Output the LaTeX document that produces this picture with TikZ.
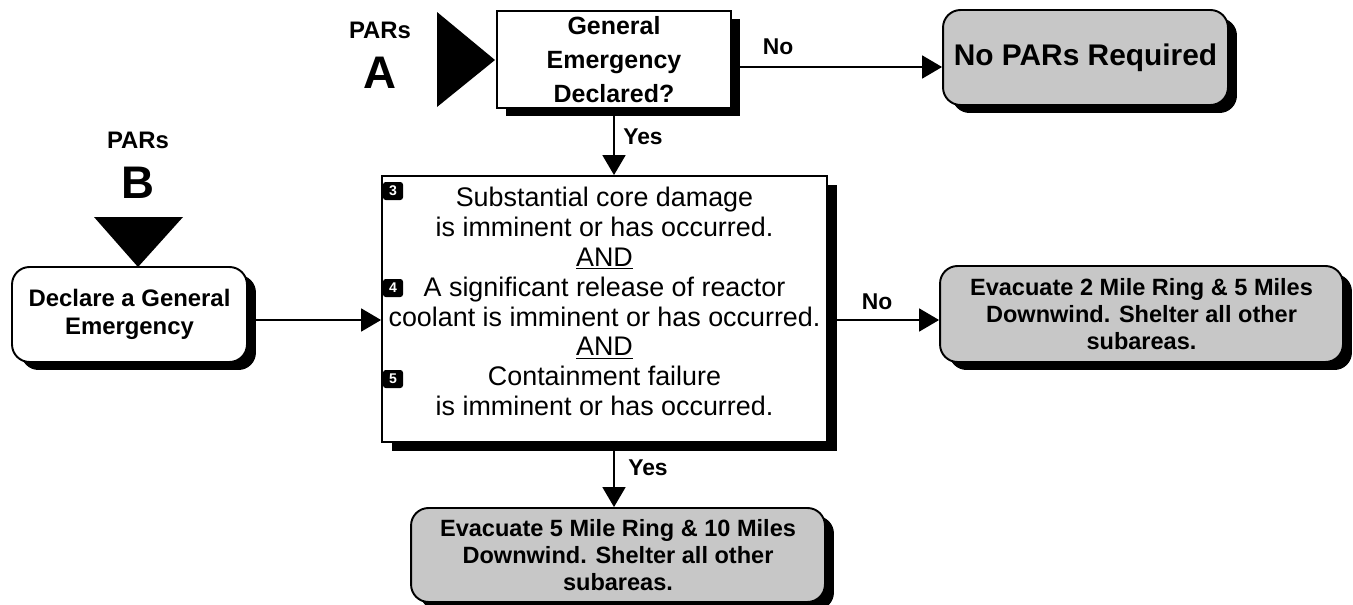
\documentclass[tikz,border=0pt]{standalone}
\usepackage{fontspec}
\setmainfont{Liberation Sans}
\usetikzlibrary{arrows.meta, shadows}
\tikzstyle{question} = [rectangle, minimum width=4.68cm, minimum height=1.9cm, text centered, align=center, draw=black, line width=1.1pt, fill=white, font=\fontsize{14.2}{19.3}\selectfont\bfseries,
drop shadow={shadow xshift=0.18cm, shadow yshift=-0.16cm, fill=black, opacity=1}]
\tikzstyle{process} = [rectangle, rounded corners=0.35cm, minimum width=4.7cm, minimum height=1.9cm, text centered, align=center, draw=black, line width=1.1pt, fill=white, font=\fontsize{13.6}{15.9}\selectfont\bfseries,
drop shadow={shadow xshift=0.18cm, shadow yshift=-0.16cm, fill=black, opacity=1}]
\tikzstyle{result} = [rectangle, rounded corners=0.35cm, text centered, align=center, draw=black, line width=1.1pt, fill=black!22, font=\fontsize{13.4}{15.3}\selectfont\bfseries,
drop shadow={shadow xshift=0.18cm, shadow yshift=-0.16cm, fill=black, opacity=1}]
\tikzstyle{condition} = [rectangle, minimum width=8.9cm, minimum height=5.32cm, draw=black, line width=1.1pt, fill=white,
drop shadow={shadow xshift=0.2cm, shadow yshift=-0.18cm, fill=black, opacity=1}]
\tikzstyle{condtext} = [text centered, align=center, font=\fontsize{15.3}{17}\selectfont]
\tikzstyle{numbox} = [rectangle, rounded corners=1.5pt, fill=black, text=white, minimum width=0.4cm, minimum height=0.36cm, inner sep=0pt, font=\fontsize{8}{8}\selectfont\bfseries]
\tikzstyle{pars} = [font=\fontsize{13.6}{15}\selectfont\bfseries]
\tikzstyle{letter} = [font=\fontsize{26}{28}\selectfont\bfseries]
\tikzstyle{answer} = [font=\fontsize{13}{15}\selectfont\bfseries]
\tikzstyle{arrow} = [line width=1.1pt, -{Triangle[length=0.4cm, width=0.46cm]}]

\begin{document}
\begin{tikzpicture}[x=0.02cm, y=-0.02cm]
\useasboundingbox (0,0) rectangle (1353,605);

% entry markers
\node (parsa) [pars] at (380,30) {PARs};
\node (lettera) [letter] at (380,73) {A};
\fill (437,12) -- (437,107) -- (495,60) -- cycle;
\node (parsb) [pars] at (138,140) {PARs};
\node (letterb) [letter] at (138,183) {B};
\fill (94,217) -- (183,217) -- (138,267) -- cycle;

\node (ge) [question] at (614,59.5) {General\\Emergency\\Declared?};
\node (nopars) [result, minimum width=5.7cm, minimum height=1.9cm, font=\fontsize{17}{19}\selectfont\bfseries] at (1085.5,57.5) {No PARs Required};
\node (declare) [process] at (129.5,314.5) {Declare a General\\Emergency};
\node (main) [condition] at (604.5,309) {};
\node (maintext) [condtext] at ([yshift=0.15cm]main.center) {Substantial core damage\\is imminent or has occurred.\\\underline{AND}\\A significant release of reactor\\coolant is imminent or has occurred.\\\underline{AND}\\Containment failure\\is imminent or has occurred.};
\node (evac2) [result, minimum width=8.06cm, minimum height=1.92cm] at (1141.5,314) {Evacuate 2 Mile Ring \& 5 Miles\\Downwind. Shelter all other\\subareas.};
\node (evac5) [result, minimum width=8.28cm, minimum height=1.88cm] at (618,555) {Evacuate 5 Mile Ring \& 10 Miles\\Downwind. Shelter all other\\subareas.};

\node (n3) [numbox] at (393,191) {3};
\node (n4) [numbox] at (393,288) {4};
\node (n5) [numbox] at (393,379) {5};

\draw [arrow] ([yshift=-0.15cm]ge.east) -- ([yshift=-0.15cm]ge.east -| nopars.west);
\draw [arrow] (ge.south) -- (ge.south |- main.north);
\draw [arrow] ([yshift=-0.11cm]declare.east) -- ([yshift=-0.11cm]declare.east -| main.west);
\draw [arrow] ([yshift=-0.22cm]main.east) -- ([yshift=-0.22cm]main.east -| evac2.west);
\draw [arrow] (ge.south |- main.south) -- (ge.south |- evac5.north);

\node (no1) [answer] at (778,47) {No};
\node (yes1) [answer] at (643,137) {Yes};
\node (no2) [answer] at (877,302) {No};
\node (yes2) [answer] at (648,468) {Yes};

\end{tikzpicture}
\end{document}
